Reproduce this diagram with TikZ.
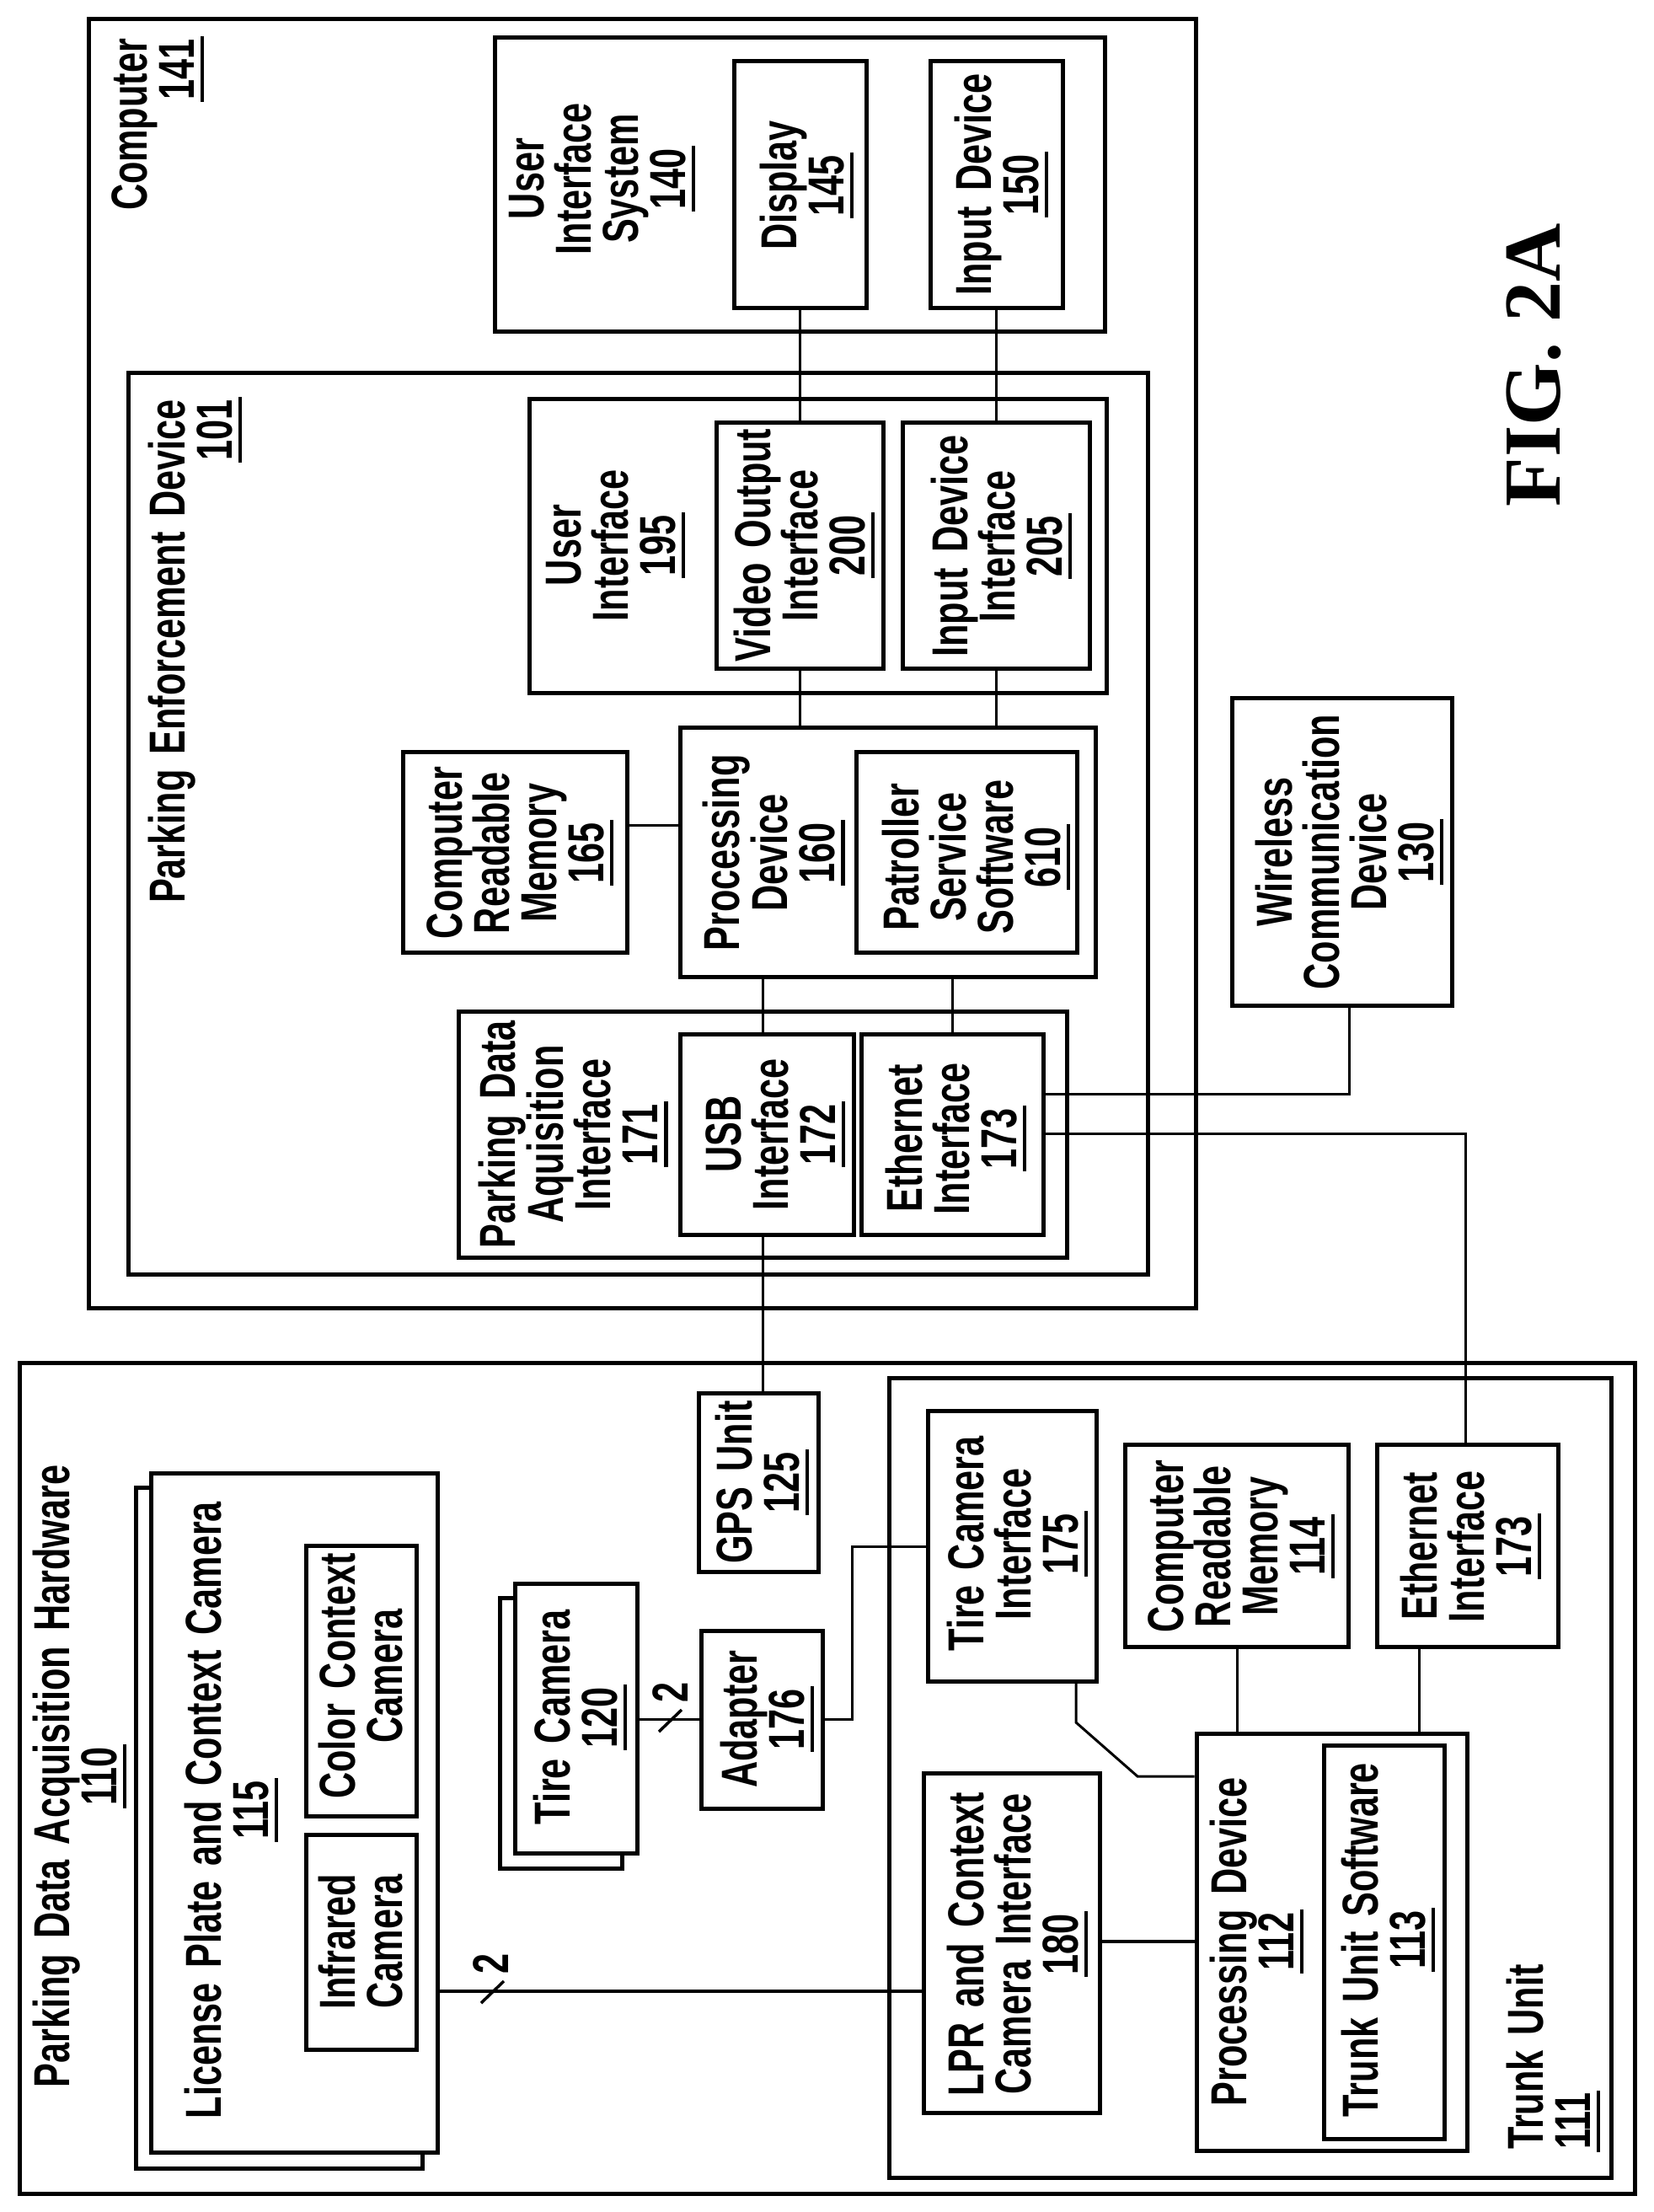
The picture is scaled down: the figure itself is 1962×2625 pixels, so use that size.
\documentclass[tikz,border=0pt]{standalone}
\usepackage{fontspec}
\usepackage{tikz}
\usetikzlibrary{fit}
\newfontfamily\boxfont{Liberation Sans}[FakeStretch=0.72,WordSpace=1.5]
\newfontfamily\figfont{Liberation Serif}
% reference numbers have a heavy low underline
\newcommand{\refnum}[1]{\setbox0=\hbox{#1}\hbox{\kern-3pt\rlap{\smash{\rule[-12pt]{\dimexpr\wd0+6pt\relax}{4.5pt}}}\rule[-5pt]{0pt}{1pt}\kern3pt\box0}}
\tikzset{
	box/.style={draw,line width=5pt,inner sep=0pt,fill=white},
	lbl/.style={rotate=90,align=center,inner sep=0pt,font=\boxfont\bfseries\fontsize{60}{56}\selectfont},
	conn/.style={line width=3pt},
	heavyconn/.style={line width=4pt},
	tickmark/.style={line width=3.5pt}
}
\begin{document}
\begin{tikzpicture}[x=1pt,y=-1pt]
	\useasboundingbox (0,0) rectangle (1962,2625);
	% Define the boxes, outer ones first
	\foreach \name/\xa/\ya/\xb/\yb in {
		computer/105/23/1419/1552, ped/152/442/1362/1512, uisystem/587/45/1311/393,
		display/871/73/1028/365, inputdev/1104/73/1261/365,
		ui/628/473/1313/822, videoif/850/501/1048/793, inputif/1071/501/1293/793,
		cpu/807/863/1300/1159, patroller/1016/892/1278/1130, memtop/478/892/744/1130,
		pdai/544/1200/1266/1492, usb/807/1227/1013/1465, ethtop/1022/1227/1238/1465,
		wireless/1462/828/1723/1193,
		hardware/23/1617/1940/2603, trunk/1055/1635/1912/2584, gps/829/1653/971/1865,
		lpback/161/1765/501/2573, lpcam/179/1748/519/2554,
		color/363/1834/494/2155, infrared/363/2177/494/2432,
		tireback/593/1896/738/2217, tirecam/611/1879/756/2199, adapter/832/1935/976/2146,
		tireif/1101/1674/1301/1995, memlow/1335/1714/1600/1954, ethlow/1634/1714/1849/1954,
		lprif/1096/2104/1305/2507, trunkcpu/1420/2057/1741/2552, trunksw/1571/2071/1714/2538}
		\node[box,fit={(\xa,\ya) (\xb,\yb)}] (\name) {};
	% Add labels to the upper boxes
	\node[lbl,align=right] (computerlbl) at (184,148) {Computer\\\refnum{141}};
	\node[lbl] (uisystemlbl) at (711,212) {User\\Interface\\System\\\refnum{140}};
	\node[lbl] (displaylbl) at (954,220) {Display\\\refnum{145}};
	\node[lbl] (inputdevlbl) at (1185,219) {Input Device\\\refnum{150}};
	\node[lbl,align=right] (pedlbl) at (228,773) {Parking Enforcement Device\\\refnum{101}};
	\node[lbl] (uilbl) at (727,647) {User\\Interface\\\refnum{195}};
	\node[lbl] (videoiflbl) at (951,647) {Video Output\\Interface\\\refnum{200}};
	\node[lbl] (inputiflbl) at (1185,648) {Input Device\\Interface\\\refnum{205}};
	\node[lbl] (cpulbl) at (915,1012) {Processing\\Device\\\refnum{160}};
	\node[lbl] (patrollerlbl) at (1155,1017) {Patroller\\Service\\Software\\\refnum{610}};
	\node[lbl] (memtoplbl) at (614,1012) {Computer\\Readable\\Memory\\\refnum{165}};
	\node[lbl] (pdailbl) at (677,1346) {Parking Data\\Aquisition\\Interface\\\refnum{171}};
	\node[lbl] (usblbl) at (917,1346) {USB\\Interface\\\refnum{172}};
	\node[lbl] (ethtoplbl) at (1131,1351) {Ethernet\\Interface\\\refnum{173}};
	\node[lbl] (wirelesslbl) at (1598,1011) {Wireless\\Communication\\Device\\\refnum{130}};
	% Add labels to the lower boxes
	\node[lbl] (hardwarelbl) at (91,2108) {Parking Data Acquisition Hardware\\\refnum{110}};
	\node[lbl] (lpcamlbl) at (271,2148) {License Plate and Context Camera\\\refnum{115}};
	\node[lbl] (colorlbl) at (428,1989) {Color Context\\Camera};
	\node[lbl] (infraredlbl) at (428,2304) {Infrared\\Camera};
	\node[lbl] (tirecamlbl) at (685,2038) {Tire Camera\\\refnum{120}};
	\node[lbl] (gpslbl) at (901,1759) {GPS Unit\\\refnum{125}};
	\node[lbl] (adapterlbl) at (907,2040) {Adapter\\\refnum{176}};
	\node[lbl] (tireiflbl) at (1204,1832) {Tire Camera\\Interface\\\refnum{175}};
	\node[lbl] (memlowlbl) at (1470,1835) {Computer\\Readable\\Memory\\\refnum{114}};
	\node[lbl] (ethlowlbl) at (1742,1835) {Ethernet\\Interface\\\refnum{173}};
	\node[lbl] (lpriflbl) at (1204,2307) {LPR and Context\\Camera Interface\\\refnum{180}};
	\node[lbl] (trunkcpulbl) at (1488,2304) {Processing Device\\\refnum{112}};
	\node[lbl] (trunkswlbl) at (1644,2302) {Trunk Unit Software\\\refnum{113}};
	\node[lbl,align=left] (trunklbl) at (1840,2441) {Trunk Unit\\\refnum{111}};
	% Connect the upper boxes
	\draw[conn] (display.south) -- (videoif.north -| display.south);
	\draw[conn] (inputdev.south) -- (inputif.north -| inputdev.south);
	\draw[conn] (videoif.south) -- (cpu.north -| videoif.south);
	\draw[conn] (inputif.south) -- (cpu.north -| inputif.south);
	\draw[conn] (memtop.east |- 0,979) -- (cpu.west |- 0,979);
	\draw[conn] (cpu.south -| 905,0) -- (usb.north -| 905,0);
	\draw[conn] (cpu.south -| ethtop.north) -- (ethtop.north);
	% Lines that leave the computer box
	\draw[conn] (usb.south -| 905,0) -- (gps.north -| 905,0);
	\draw[conn] (ethtop.east |- 0,1298) -| (wireless.south -| 1601,0);
	\draw[conn] (ethtop.east |- 0,1345) -| (ethlow.north -| 1739,0);
	% Connect the lower boxes
	\draw[heavyconn] (lpcam.east |- 0,2363) -- (lprif.west |- 0,2363);
	\draw[conn] (tirecam.east |- 0,2040) -- (adapter.west |- 0,2040);
	\draw[conn] (adapter.east |- 0,2040) -- (1011,2040) |- (tireif.west |- 0,1835);
	\draw[conn] (tireif.south -| 1277,0) -- (1277,2044) -- (1350,2108) -- (trunkcpu.west |- 0,2108);
	\draw[heavyconn] (lprif.east |- 0,2304) -- (trunkcpu.west |- 0,2304);
	\draw[conn] (memlow.south -| 1468,0) -- (trunkcpu.north -| 1468,0);
	\draw[conn] (ethlow.south -| 1684,0) -- (trunkcpu.north -| 1684,0);
	% Bus marks
	\coordinate (tickaa) at (571,2377);
	\coordinate (tickab) at (598,2351);
	\coordinate (tickba) at (782,2055);
	\coordinate (tickbb) at (809,2029);
	\draw[tickmark] (tickaa) -- (tickab);
	\draw[tickmark] (tickba) -- (tickbb);
	\node[lbl] (buslpcam) at (583,2330) {2};
	\node[lbl] (bustire) at (796,2008) {2};
	% Figure title
	\node[rotate=90,inner sep=0pt,font=\figfont\bfseries\fontsize{96}{96}\selectfont] (figlbl) at (1820,433) {FIG. 2A};
\end{tikzpicture}
\end{document}
